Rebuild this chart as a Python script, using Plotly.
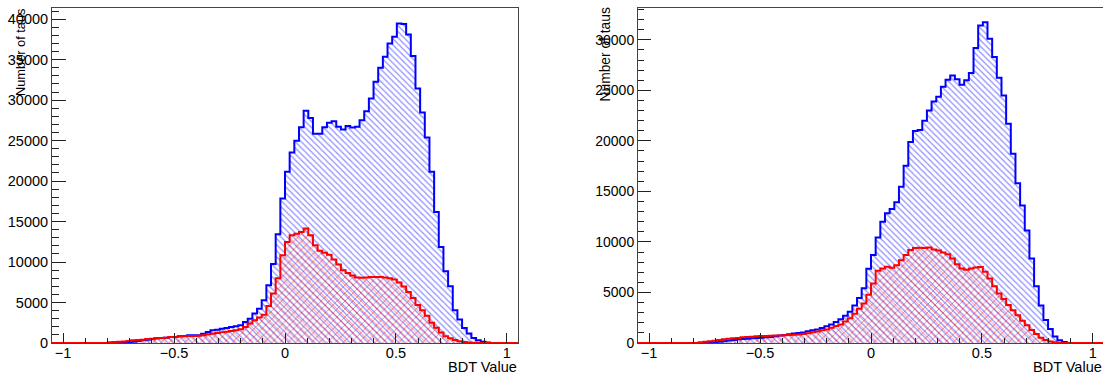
import plotly.graph_objects as go

# ---- data: 100 bins from -1.05 to 1.05 (bin width 0.021) ----
bin_low = -1.05
bin_width = 0.021
n_bins = 100

left_blue = [0]*14 + [
    40, 80, 120, 160, 250, 330, 410, 490, 580, 620,
    660, 740, 740, 820, 865, 950, 950, 950, 1150, 1360,
    1570, 1650, 1770, 1850, 1980, 2060, 2180, 2600, 3010, 3630,
    4240, 5270, 7130, 9750, 13430, 17840,
    21140, 23520, 24970, 26660, 28680, 27800, 25850, 25850, 26640, 27220,
    27380, 26700, 26380, 26790, 26620, 26700, 27530, 28640, 30210, 32260,
    33990, 35350, 37010, 37820, 39480, 39400, 38120, 35440, 31450, 28480,
    25390, 21140, 16190, 11870, 8860, 7010, 4040, 2890, 1850, 1160,
    620, 330, 150, 50] + [0]*6

left_red = [0]*12 + [
    80, 120, 160, 200, 250, 330, 370, 410, 490, 535,
    580, 620, 660, 740, 740, 820, 820, 870, 870, 900,
    950, 1070, 1150, 1240, 1320, 1400, 1480, 1570, 1690, 1980,
    2400, 2800, 3150, 3500, 4570, 6100, 8000, 10840,
    12480, 13310, 13510, 13720, 14130, 13310, 12070, 11400, 11150, 10900,
    10300, 9700, 9000, 8650, 8350, 8100, 8050, 8100, 8150, 8150,
    8150, 8100, 8000, 7850, 7480, 6980, 6300, 5560, 4700, 4040,
    3380, 2500, 1870, 1300, 820, 580, 370, 230, 120, 70,
    30] + [0]*9

right_blue = [0]*15 + [
    20, 60, 120, 180, 240, 300, 360, 400, 430, 460,
    500, 530, 560, 600, 660, 730, 800, 860, 930, 980,
    1050, 1170, 1250, 1340, 1480, 1650, 1830, 2080, 2360, 2700,
    3100, 3700, 4460, 5420, 7340,
    8700, 10430, 12000, 12830, 13260, 13920, 15450, 17530, 19900, 20980,
    21070, 22000, 23000, 23910, 24380, 25360, 26060, 26460, 26100, 25560,
    25990, 26720, 29200, 31420, 31750, 30100, 28310, 26250, 24480, 21700,
    18720, 15810, 13600, 11130, 8370, 5620, 3700, 2280, 1380, 640,
    260, 90] + [0]*8

right_red = [0]*13 + [
    70, 130, 170, 230, 300, 360, 430, 460, 500, 560,
    600, 630, 660, 690, 700, 720, 730, 750, 760, 790,
    820, 850, 900, 960, 1060, 1140, 1250, 1340, 1500, 1670,
    1830, 2130, 2460, 2900, 3400, 3900, 4780,
    5890, 7140, 7370, 7540, 7450, 7700, 8200, 8700, 9200, 9400,
    9430, 9400, 9460, 9260, 9150, 8950, 8780, 8350, 7800, 7370,
    7250, 7370, 7460, 7520, 7040, 6380, 5620, 4890, 4350, 3770,
    3240, 2750, 2210, 1750, 1290, 890, 520, 300, 150, 70,
    20] + [0]*9

x_tick_vals = [-1, -0.5, 0, 0.5, 1]
y_title = "Number of taus"
x_title = "BDT Value"

edges = [bin_low + bin_width * i for i in range(n_bins + 1)]
centers = [bin_low + bin_width * (i + 0.5) for i in range(n_bins)]

W, H = 1103, 376
ML, MR, MT, MB = 0, 0, 8, 33
PW = W - ML - MR
PH = H - MT - MB

BLUE = "#0000ff"
RED = "#ff0000"
FONT = "Liberation Sans, Arial, Helvetica, sans-serif"

fig = go.Figure()


def add_hist(vals, color, hatch_color, shape, size, solidity, xa, ya):
    fig.add_trace(go.Bar(
        x=centers, y=vals, width=bin_width, xaxis=xa, yaxis=ya,
        marker=dict(color="rgba(0,0,0,0)", line=dict(width=0),
                    pattern=dict(shape=shape, fgcolor=hatch_color,
                                 bgcolor="rgba(0,0,0,0)", size=size,
                                 solidity=solidity, fillmode="overlay")),
        showlegend=False, hoverinfo="skip"))
    fig.add_trace(go.Scatter(
        x=edges, y=list(vals) + [vals[-1]], mode="lines", line_shape="hv",
        line=dict(color=color, width=2), xaxis=xa, yaxis=ya,
        cliponaxis=False, showlegend=False, hoverinfo="skip"))


BLUE_H = "rgba(0,0,255,0.85)"
RED_H = "rgba(255,0,0,0.9)"
add_hist(left_blue, BLUE, BLUE_H, "\\", 4.3, 0.3, "x", "y")
add_hist(left_red, RED, RED_H, "x", 5.6, 0.32, "x", "y")
add_hist(right_blue, BLUE, BLUE_H, "\\", 4.3, 0.3, "x2", "y2")
add_hist(right_red, RED, RED_H, "x", 5.6, 0.32, "x2", "y2")

common_x = dict(
    tickvals=x_tick_vals, ticks="inside", ticklen=10, tickwidth=1,
    tickcolor="#222", showgrid=False, zeroline=False, showline=True,
    linecolor="#444", linewidth=1, mirror=True,
    minor=dict(ticks="inside", ticklen=5, dtick=0.1, tick0=0, tickcolor="#222"),
    tickfont=dict(family=FONT, size=14.5, color="black"), automargin=False,
    ticklabelstandoff=-3,
)
common_y = dict(
    ticks="inside", tickwidth=1, tickcolor="#222", showgrid=False,
    zeroline=False, showline=True, linecolor="#444", linewidth=1,
    mirror=True, dtick=5000, tick0=0, tickformat="d", automargin=False,
)

fig.update_layout(
    width=W, height=H, margin=dict(l=ML, r=MR, t=MT, b=MB),
    paper_bgcolor="white", plot_bgcolor="white",
    barmode="overlay", bargap=0,
    xaxis=dict(domain=[52 / PW, 518 / PW], range=[-1.05, 1.05], anchor="y", **common_x),
    yaxis=dict(domain=[0, 1], range=[0, 41380], anchor="x", ticklen=14,
               minor=dict(ticks="inside", ticklen=7, dtick=1000, tick0=0, tickcolor="#222"),
               tickfont=dict(family=FONT, size=14.5, color="black"), **common_y),
    xaxis2=dict(domain=[638 / PW, 1.0], range=[-1.05, 1.05 - 1 / 222], anchor="y2", **common_x),
    yaxis2=dict(domain=[0, 1], range=[0, 33150], anchor="x2", ticklen=13,
                minor=dict(ticks="inside", ticklen=6, dtick=1000, tick0=0, tickcolor="#222"),
                tickfont=dict(family=FONT, size=14, color="black"), **common_y),
)

ann = []
for xc, fs in [(20, 12.8), (604.5, 13.8)]:
    ann.append(dict(text=y_title, xref="paper", yref="paper",
                    x=xc / PW, y=1 + 1 / PH, xanchor="center", yanchor="top",
                    textangle=-90, showarrow=False, borderpad=0,
                    font=dict(family=FONT, size=fs, color="black")))
for xr in [518, 1103]:
    ann.append(dict(text=x_title, xref="paper", yref="paper",
                    x=xr / PW, y=(PH - 367 + MT) / PH, xanchor="right", yanchor="middle",
                    showarrow=False, borderpad=0,
                    font=dict(family=FONT, size=14.5, color="black")))
fig.update_layout(annotations=ann)

fig.write_html("out.html")
